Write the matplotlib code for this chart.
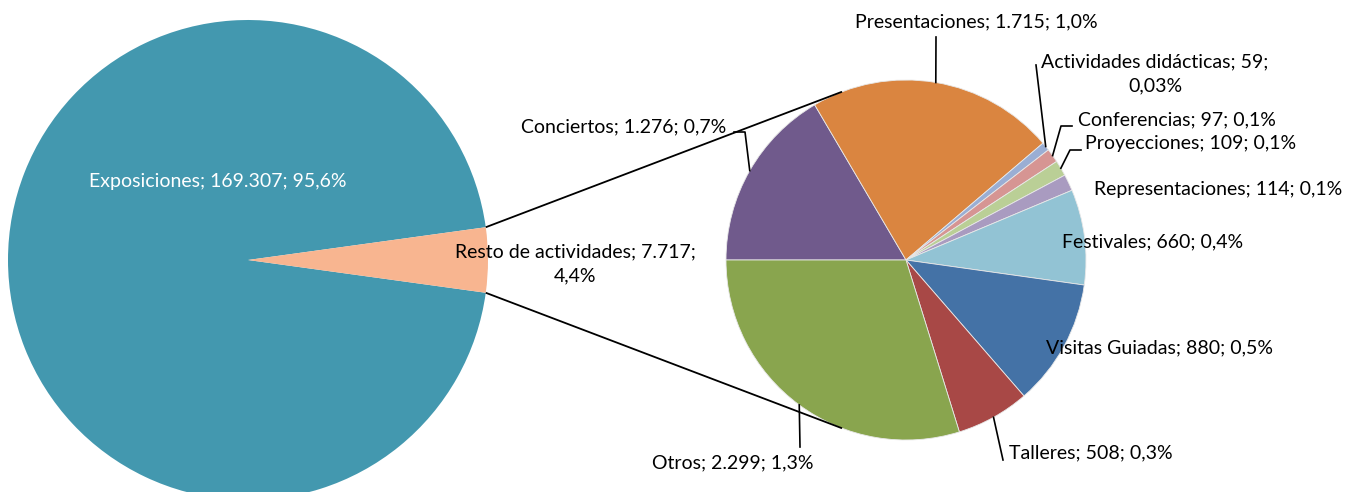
import matplotlib.pyplot as plt
import numpy as np

plt.rcParams['font.family'] = ['Lato', 'DejaVu Sans']

# data
main_labels = ["Exposiciones", "Resto de actividades"]
main_values = [169307, 7717]
main_pct = ["95,6%", "4,4%"]
main_colors = ["#4398AF", "#F8B590"]

sub_labels = ["Conciertos", "Presentaciones", "Actividades didácticas", "Conferencias",
              "Proyecciones", "Representaciones", "Festivales", "Visitas Guiadas",
              "Talleres", "Otros"]
sub_values = [1276, 1715, 59, 97, 109, 114, 660, 880, 508, 2299]
sub_pct = ["0,7%", "1,0%", "0,03%", "0,1%", "0,1%", "0,1%", "0,4%", "0,5%", "0,3%", "1,3%"]
sub_colors = ["#705A8C", "#DA8540", "#9AAED4", "#D69593", "#BACF96",
              "#A99BC0", "#92C3D4", "#4472A6", "#A84846", "#89A54E"]

W, H = 1359, 492


def P(x, y):
    # pixel coords (top-left origin) -> data coords
    return x, H - y


def fmt(v):
    return f"{v:,}".replace(",", ".")


fig = plt.figure(figsize=(W / 100, H / 100), dpi=100)
ax = fig.add_axes([0, 0, 1, 1])

c1, r1 = P(248, 260), 240
c2, r2 = P(906, 260), 180

rest_frac = main_values[1] / sum(main_values)
half = rest_frac * 360 / 2
ax.pie(main_values, colors=main_colors, startangle=half, counterclock=True,
       center=c1, radius=r1, wedgeprops=dict(linewidth=0))
ax.pie(sub_values, colors=sub_colors, startangle=180, counterclock=False,
       center=c2, radius=r2, wedgeprops=dict(linewidth=0.6, edgecolor="#e8e8e8"))

# connector lines: from edge of the "rest" slice, tangent to the second pie
for s in (1, -1):
    a = np.radians(s * half)
    x0, y0 = c1[0] + r1 * np.cos(a), c1[1] + r1 * np.sin(a)
    dx, dy = x0 - c2[0], y0 - c2[1]
    d = np.hypot(dx, dy)
    t = np.arctan2(dy, dx) - s * np.arccos(r2 / d)
    x1, y1 = c2[0] + r2 * np.cos(t), c2[1] + r2 * np.sin(t)
    ax.plot([x0, x1], [y0, y1], color="black", lw=1.3, solid_capstyle="butt")

# slice mid angles of second pie
fr = np.array(sub_values) / sum(sub_values) * 360
ends = 180 - np.cumsum(fr)
mids = ends + fr / 2

fs = 14
ax.text(*P(218, 181), f"{main_labels[0]}; {fmt(main_values[0])}; {main_pct[0]}",
        color="white", fontsize=fs, ha="center", va="center")
ax.text(*P(575, 264), f"{main_labels[1]}; {fmt(main_values[1])};\n{main_pct[1]}",
        color="black", fontsize=fs, ha="center", va="center", linespacing=1.5)

# label layout: centre position, leader bend points
label_pos = [(624, 127), (976, 22), (1155, 74), (1177, 120), (1191, 144),
             (1218, 190), (1153, 242), (1159, 348), (1091, 453), (733, 463)]
leaders = {0: [(745, 132), (734, 132)], 1: [(936, 37)], 2: [(1036, 65)],
           3: [(1061, 126), (1072, 126)], 4: [(1070, 150), (1081, 150)],
           8: [(1003, 460)], 9: [(800, 447)]}

for i, lab in enumerate(sub_labels):
    if i == 2:
        txt = f"{lab}; {fmt(sub_values[i])};\n{sub_pct[i]}"
    else:
        txt = f"{lab}; {fmt(sub_values[i])}; {sub_pct[i]}"
    ax.text(*P(*label_pos[i]), txt, fontsize=fs, ha="center", va="center",
            linespacing=1.5)
    if i in leaders:
        m = np.radians(mids[i])
        xs = [c2[0] + r2 * np.cos(m)]
        ys = [c2[1] + r2 * np.sin(m)]
        for bx, by in leaders[i]:
            px, py = P(bx, by)
            xs.append(px)
            ys.append(py)
        ax.plot(xs, ys, color="black", lw=1.2)

ax.set_xlim(0, W)
ax.set_ylim(0, H)
ax.set_aspect("equal")
ax.axis("off")

fig.savefig("out.png", dpi=100)
